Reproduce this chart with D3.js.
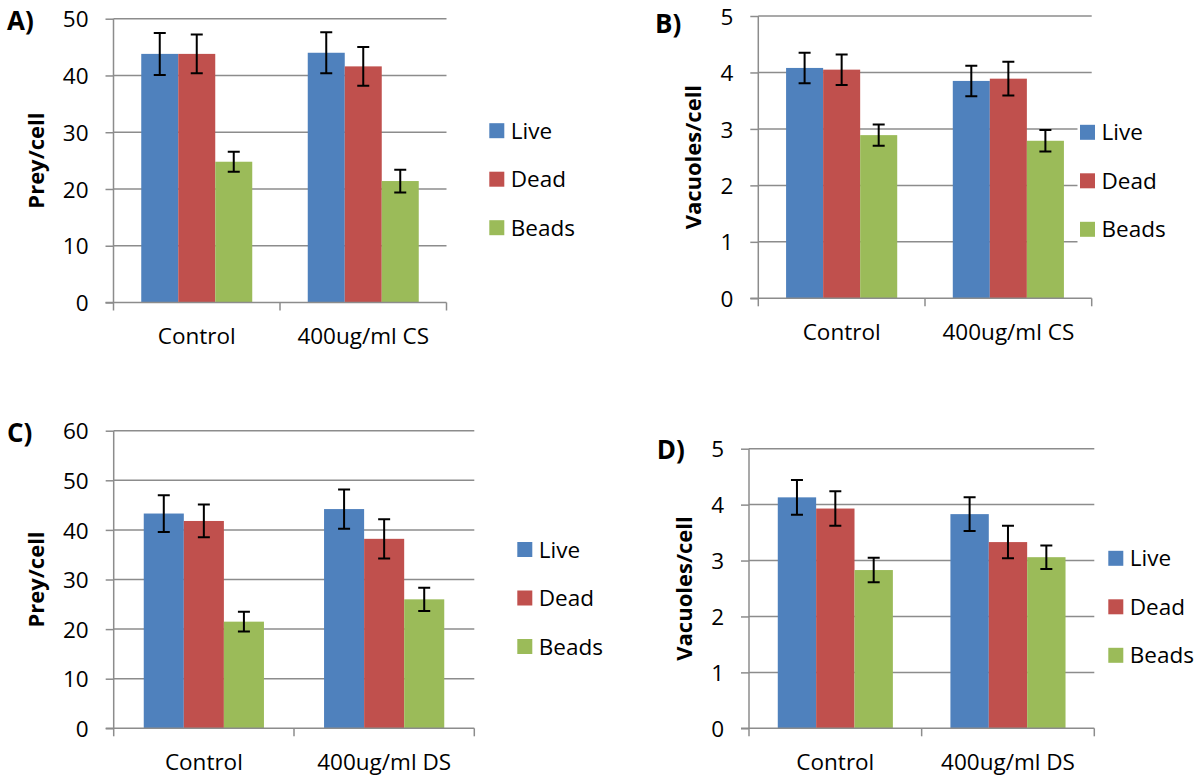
<!DOCTYPE html>
<html>
<head>
<meta charset="utf-8">
<script src="https://cdn.jsdelivr.net/npm/d3@7"></script>
<style>
  html, body { margin: 0; padding: 0; background: #ffffff; }
  svg { display: block; font-family: "Open Sans", "DejaVu Sans", sans-serif; }
</style>
</head>
<body>
<svg id="chart" width="1199" height="782"></svg>
<script>
// ---------- DATA ----------
const series = ["Live", "Dead", "Beads"];
const categoriesCS = ["Control", "400ug/ml CS"];
const categoriesDS = ["Control", "400ug/ml DS"];

const ticksPrey50 = [0, 10, 20, 30, 40, 50];
const ticksPrey60 = [0, 10, 20, 30, 40, 50, 60];
const ticksVac = [0, 1, 2, 3, 4, 5];

// Panel A (Prey/cell, CS)
const aLive = [43.8, 44.0];
const aDead = [43.8, 41.6];
const aBeads = [24.8, 21.4];
const aLiveErr = [3.7, 3.6];
const aDeadErr = [3.4, 3.4];
const aBeadsErr = [1.75, 2.0];

// Panel B (Vacuoles/cell, CS)
const bLive = [4.08, 3.85];
const bDead = [4.05, 3.89];
const bBeads = [2.89, 2.79];
const bLiveErr = [0.27, 0.27];
const bDeadErr = [0.27, 0.30];
const bBeadsErr = [0.19, 0.19];

// Panel C (Prey/cell, DS)
const cLive = [43.3, 44.2];
const cDead = [41.8, 38.2];
const cBeads = [21.5, 26.0];
const cLiveErr = [3.7, 3.95];
const cDeadErr = [3.3, 3.95];
const cBeadsErr = [2.0, 2.35];

// Panel D (Vacuoles/cell, DS)
const dLive = [4.13, 3.83];
const dDead = [3.93, 3.33];
const dBeads = [2.83, 3.06];
const dLiveErr = [0.31, 0.30];
const dDeadErr = [0.31, 0.29];
const dBeadsErr = [0.22, 0.21];

// ---------- STYLE / LAYOUT ----------
const colors = { Live: "#4F81BD", Dead: "#C0504D", Beads: "#9BBB59" };
const gridColor = "#8c8c8c";

const panels = [
  { label: "A)", labelX: 7, labelY: 29.5, cats: categoriesCS, ticks: ticksPrey50, title: "Prey/cell",
    vals: [aLive, aDead, aBeads], errs: [aLiveErr, aDeadErr, aBeadsErr],
    left: 113.5, right: 446.5, top: 18.7, bottom: 302.5, titleX: 44,
    legendX: 489.3, legendY: 130.7, legendBox: false },
  { label: "B)", labelX: 655, labelY: 33.3, cats: categoriesCS, ticks: ticksVac, title: "Vacuoles/cell",
    vals: [bLive, bDead, bBeads], errs: [bLiveErr, bDeadErr, bBeadsErr],
    left: 758.3, right: 1091.7, top: 16, bottom: 298.3, titleX: 701,
    legendX: 1080, legendY: 132.3, legendBox: true },
  { label: "C)", labelX: 7, labelY: 441.5, cats: categoriesDS, ticks: ticksPrey60, title: "Prey/cell",
    vals: [cLive, cDead, cBeads], errs: [cLiveErr, cDeadErr, cBeadsErr],
    left: 113.7, right: 474.3, top: 430.7, bottom: 728.3, titleX: 44,
    legendX: 517.3, legendY: 549.5, legendBox: false },
  { label: "D)", labelX: 656.7, labelY: 459.3, cats: categoriesDS, ticks: ticksVac, title: "Vacuoles/cell",
    vals: [dLive, dDead, dBeads], errs: [dLiveErr, dDeadErr, dBeadsErr],
    left: 749, right: 1094.3, top: 448.7, bottom: 728.3, titleX: 692,
    legendX: 1108.3, legendY: 558.3, legendBox: false }
];

const svg = d3.select("#chart");

panels.forEach(p => {
  const g = svg.append("g");
  const yMax = d3.max(p.ticks);
  const y = d3.scaleLinear().domain([0, yMax]).range([p.bottom, p.top]);
  const x0 = d3.scaleBand().domain(p.cats).range([p.left, p.right]).paddingInner(0).paddingOuter(0);
  const x1 = d3.scaleBand().domain(series).range([0, x0.bandwidth()]).paddingInner(0).paddingOuter(0.75);

  // gridlines
  g.append("g").selectAll("line").data(p.ticks.filter(t => t > 0)).join("line")
    .attr("x1", p.left).attr("x2", p.right)
    .attr("y1", d => y(d)).attr("y2", d => y(d))
    .attr("stroke", gridColor).attr("stroke-width", 1.5);

  // bars
  const rows = [];
  p.cats.forEach((c, ci) => series.forEach((s, si) => {
    rows.push({ cat: c, s, v: p.vals[si][ci], e: p.errs[si][ci] });
  }));
  g.append("g").selectAll("rect").data(rows).join("rect")
    .attr("x", d => x0(d.cat) + x1(d.s))
    .attr("width", x1.bandwidth())
    .attr("y", d => y(d.v))
    .attr("height", d => y(0) - y(d.v))
    .attr("fill", d => colors[d.s]);

  // y axis
  const yAxis = d3.axisLeft(y).tickValues(p.ticks).tickSize(8).tickPadding(17).tickFormat(d3.format("d"));
  const ya = g.append("g").attr("transform", `translate(${p.left},0)`).call(yAxis);
  ya.select(".domain").attr("stroke", gridColor).attr("stroke-width", 1.5).attr("d", `M0,${p.bottom}V${p.top}`);
  ya.selectAll(".tick line").attr("stroke", gridColor).attr("stroke-width", 1.5);
  ya.selectAll(".tick text").attr("font-size", "22.5px").attr("fill", "#000")
    .attr("font-family", "'Open Sans', sans-serif").attr("dy", "0.36em");

  // x axis
  const xAxis = d3.axisBottom(x0).tickSize(0).tickPadding(26);
  const xa = g.append("g").attr("transform", `translate(0,${p.bottom})`).call(xAxis);
  xa.select(".domain").attr("stroke", gridColor).attr("stroke-width", 1.5).attr("d", `M${p.left - 8},0H${p.right}`);
  xa.selectAll(".tick text").attr("font-size", "22.5px").attr("fill", "#000")
    .attr("font-family", "'Open Sans', sans-serif").attr("dy", "0.71em");
  const bounds = p.cats.map(c => x0(c)).concat([x0.range()[1]]);
  g.append("g").selectAll("line").data(bounds).join("line")
    .attr("x1", d => d).attr("x2", d => d)
    .attr("y1", p.bottom).attr("y2", p.bottom + 8)
    .attr("stroke", gridColor).attr("stroke-width", 1.5);

  // error bars
  const eg = g.append("g").attr("stroke", "#000").attr("stroke-width", 2).attr("fill", "none");
  rows.forEach(d => {
    const cx = x0(d.cat) + x1(d.s) + x1.bandwidth() / 2;
    const yt = y(d.v + d.e), yb = y(d.v - d.e);
    eg.append("path").attr("d", `M${cx},${yt}V${yb}M${cx - 6},${yt}H${cx + 6}M${cx - 6},${yb}H${cx + 6}`);
  });

  // y title
  g.append("text")
    .attr("transform", `translate(${p.titleX},${(p.top + p.bottom) / 2}) rotate(-90)`)
    .attr("text-anchor", "middle")
    .attr("font-size", "22px").attr("font-weight", "bold").attr("fill", "#000")
    .text(p.title);

  // panel label
  g.append("text").attr("x", p.labelX).attr("y", p.labelY)
    .attr("font-size", "26px").attr("font-weight", "bold").attr("fill", "#000")
    .text(p.label);

  // legend
  const lg = g.append("g");
  if (p.legendBox) {
    lg.append("rect").attr("x", p.legendX - 2.5).attr("y", p.legendY - 25)
      .attr("width", 1199 - p.legendX + 2.5).attr("height", 2 * 48.5 + 45).attr("fill", "#fff");
  }
  series.forEach((s, i) => {
    const cy = p.legendY + i * 48.5;
    lg.append("rect").attr("x", p.legendX).attr("y", cy - 7.5).attr("width", 15).attr("height", 15).attr("fill", colors[s]);
    lg.append("text").attr("x", p.legendX + 21.5).attr("y", cy + 8)
      .attr("font-size", "22.5px").attr("fill", "#000").text(s);
  });
});
</script>
</body>
</html>
